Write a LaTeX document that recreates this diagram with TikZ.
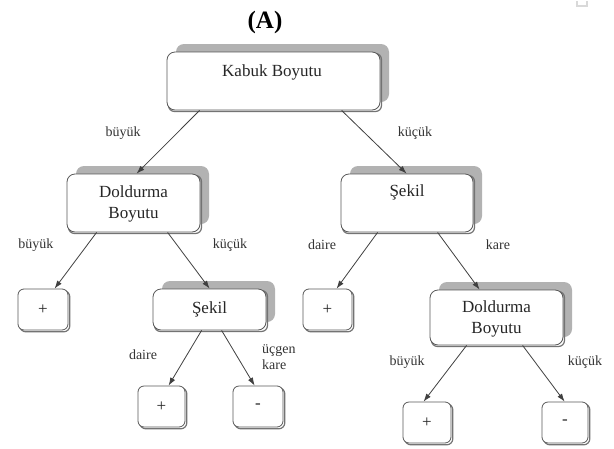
\documentclass[tikz,border=0pt]{standalone}
\usepackage{fontspec}
\setmainfont{Liberation Serif}
\usetikzlibrary{arrows.meta,calc}
\tikzset{
  x=1pt,y=-1pt,
  bigbox/.style={draw=black!65,line width=0.8pt,rounded corners=8pt,fill=white,inner sep=0pt},
  smallbox/.style={draw=black!65,line width=0.8pt,rounded corners=6pt,fill=white,inner sep=0pt},
  shadowbox/.style={fill=black!30,rounded corners=8pt},
  dropsh/.style={draw=black!55,line width=1.2pt,rounded corners=6pt},
  boxtext/.style={font=\fontsize{17}{19}\selectfont,text=black!85,inner sep=0pt},
  lbl/.style={font=\fontsize{14}{16}\selectfont,text=black!80,inner sep=0pt},
  conn/.style={draw=black!75,line width=0.8pt,-{Latex[length=8pt,width=5.5pt]}},
}
\newcommand{\mybigbox}[5]{% name, cx, cy, w, h
  \fill[shadowbox] (#2-#4/2+9,#3-#5/2-8) rectangle (#2+#4/2+9,#3+#5/2-8);
  \draw[dropsh] (#2-#4/2+1.5,#3-#5/2+1.5) rectangle (#2+#4/2+1.5,#3+#5/2+1.5);
  \node[bigbox,minimum width=#4pt,minimum height=#5pt] (#1) at (#2,#3) {};
}
\newcommand{\mysmallbox}[6]{% name, cx, cy, w, h, text
  \draw[dropsh] (#2-#4/2+1.8,#3-#5/2+1.8) rectangle (#2+#4/2+1.8,#3+#5/2+1.8);
  \node[smallbox,minimum width=#4pt,minimum height=#5pt,boxtext] (#1) at (#2,#3) {#6};
}
\begin{document}
\begin{tikzpicture}
\useasboundingbox[fill=white] (0,0) rectangle (614,448);
% artifact
\draw[black!15,line width=1.2pt] (577,1) -- (577,6) -- (587,6) -- (587,1);
% title
\node[font=\fontsize{25}{27}\selectfont\bfseries,inner sep=0pt] (title) at (265,22) {(A)};
% big boxes
\mybigbox{root}{273.5}{81}{213}{58}
\mybigbox{dl}{133.5}{203}{133}{58}
\mybigbox{sr}{407}{203}{132}{58}
\mybigbox{sm}{209.5}{309.5}{113}{41}
\mybigbox{dr}{496.5}{317.5}{133}{55}
% big box texts
\node[boxtext] (t1) at (272,72) {Kabuk Boyutu};
\node[boxtext,align=center] (t2) at (133.5,204) {Doldurma\\[2pt]Boyutu};
\node[boxtext] (t3) at (407,192) {Şekil};
\node[boxtext] (t4) at (209.5,309) {Şekil};
\node[boxtext,align=center] (t5) at (496.5,318.5) {Doldurma\\[2pt]Boyutu};
% small boxes
\mysmallbox{pl}{43}{309.5}{50}{41}{+}
\mysmallbox{pr}{327.5}{309.5}{49}{41}{+}
\mysmallbox{pm}{161.5}{406.5}{47}{41}{+}
\mysmallbox{mm}{258}{406.5}{50}{41}{-}
\mysmallbox{pb}{427}{422.5}{48}{41}{+}
\mysmallbox{mb}{565}{422.5}{46}{41}{-}
% connectors
\draw[conn] ($(root.south west)+(33,0)$) -- ($(dl.north west)+(70,0)$);
\draw[conn] ($(root.south west)+(175,0)$) -- ($(sr.north west)+(66,0)$);
\draw[conn] ($(dl.south west)+(30,0)$) -- ($(pl.north west)+(37,0)$);
\draw[conn] ($(dl.south west)+(101,0)$) -- ($(sm.north west)+(57,0)$);
\draw[conn] ($(sr.south west)+(37,0)$) -- ($(pr.north west)+(34,0)$);
\draw[conn] ($(sr.south west)+(97,0)$) -- ($(dr.north west)+(50,0)$);
\draw[conn] ($(sm.south west)+(49,0)$) -- ($(pm.north west)+(31,0)$);
\draw[conn] ($(sm.south west)+(69,0)$) -- ($(mm.north west)+(22,0)$);
\draw[conn] ($(dr.south west)+(37,0)$) -- ($(pb.north west)+(21,0)$);
\draw[conn] ($(dr.south west)+(93,0)$) -- ($(mb.north west)+(23,0)$);
% labels
\node[lbl] (l1) at (123,133) {büyük};
\node[lbl] (l2) at (415,133) {küçük};
\node[lbl] (l3) at (36,245) {büyük};
\node[lbl] (l4) at (230,245) {küçük};
\node[lbl] (l5) at (322,245) {daire};
\node[lbl] (l6) at (498,245) {kare};
\node[lbl] (l7) at (143,355) {daire};
\node[lbl,align=left,anchor=west] (l8) at (262,357) {üçgen\\kare};
\node[lbl] (l9) at (407,362) {büyük};
\node[lbl] (l10) at (585,362) {küçük};
\end{tikzpicture}
\end{document}
